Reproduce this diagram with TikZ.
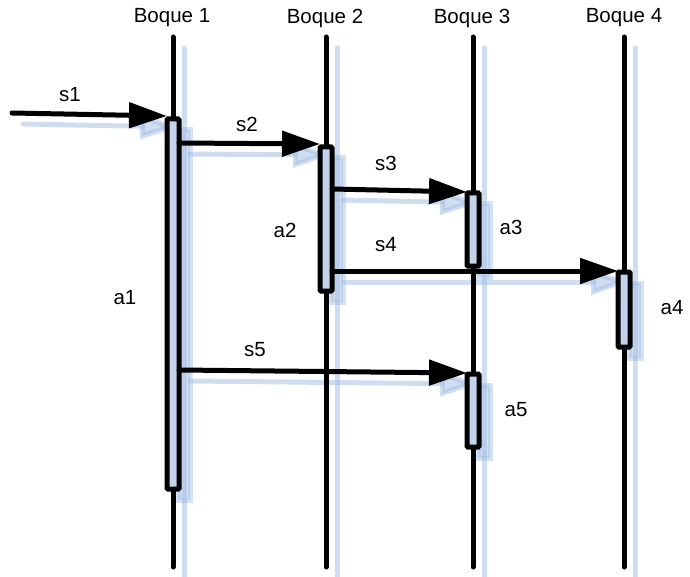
\documentclass[tikz,border=0pt]{standalone}
\usepackage{fontspec}
\setmainfont{Liberation Sans}
\usetikzlibrary{arrows.meta}
\pgfdeclarelayer{background}
\pgfsetlayers{background,main}
\definecolor{shade}{RGB}{160,188,228}
\definecolor{actfill}{RGB}{196,210,235}
\tikzset{
  lifeline/.style={line width=5pt, line cap=round},
  actbox/.style={draw, line width=5pt, fill=actfill, minimum width=12pt,
    inner sep=0pt, outer sep=0pt, rounded corners=0.8pt},
  msg/.style={line width=5pt, line cap=round,
    -{Triangle[length=38pt,width=25pt]}},
  lbl/.style={font=\fontsize{20.5}{24}\selectfont, inner sep=0pt},
  ghost/.style={draw=shade, opacity=0.5, line cap=round},
  ghostbox/.style={draw=shade, fill=shade, line width=5pt, opacity=0.45},
}
\begin{document}
\begin{tikzpicture}[x=1pt, y=-1pt]
\useasboundingbox (0,0) rectangle (690,577);

% lifeline ends
\coordinate (t1) at (173,37);  \coordinate (b1) at (173,567);
\coordinate (t2) at (326,37);  \coordinate (b2) at (326,567);
\coordinate (t3) at (473,37);  \coordinate (b3) at (473,567);
\coordinate (t4) at (624,37);  \coordinate (b4) at (624,567);
\coordinate (src) at (12,113);

% block titles
\node[lbl] (h1) at (172,18) {Boque 1};
\node[lbl] (h2) at (325,18) {Boque 2};
\node[lbl] (h3) at (472,18) {Boque 3};
\node[lbl] (h4) at (624,18) {Boque 4};

% lifelines
\draw[lifeline] (t1) -- (b1);
\draw[lifeline] (t2) -- (b2);
\draw[lifeline] (t3) -- (b3);
\draw[lifeline] (t4) -- (b4);

% activation bars
\node[actbox, minimum height=370pt] (a1) at (173,304) {};
\node[actbox, minimum height=144pt] (a2) at (326,219) {};
\node[actbox, minimum height=73pt]  (a3) at (473,229.5) {};
\node[actbox, minimum height=75pt]  (a4) at (624,309.5) {};
\node[actbox, minimum height=73pt]  (a5) at (473,410.5) {};

% messages
\draw[msg] (src) -- ([yshift=3pt]a1.north west);
\draw[msg] ([yshift=-24pt]a1.north east) -- ([yshift=3pt]a2.north west);
\draw[msg] ([yshift=-42pt]a2.north east) -- ([yshift=1pt]a3.north west);
\draw[msg] ([yshift=-124pt]a2.north east) -- ([yshift=1pt]a4.north west);
\draw[msg] ([yshift=-251pt]a1.north east) -- ([yshift=1pt]a5.north west);

% labels
\node[lbl] (l1) at (70,95) {s1};
\node[lbl] (l2) at (247,124) {s2};
\node[lbl] (l3) at (386,163) {s3};
\node[lbl] (l4) at (386,245) {s4};
\node[lbl] (l5) at (255,350) {s5};
\node[lbl] (n1) at (125,298) {a1};
\node[lbl] (n2) at (285,230) {a2};
\node[lbl] (n3) at (511,227) {a3};
\node[lbl] (n4) at (672,308) {a4};
\node[lbl] (n5) at (516,410) {a5};

% soft offset shadow behind everything
\begin{pgfonlayer}{background}
\begin{scope}[transform canvas={shift={(11pt,-11pt)}}]
  \draw[lifeline, ghost] (t1) -- (b1);
  \draw[lifeline, ghost] (t2) -- (b2);
  \draw[lifeline, ghost] (t3) -- (b3);
  \draw[lifeline, ghost] (t4) -- (b4);
  \foreach \b in {a1,a2,a3,a4,a5}
    \draw[ghostbox] (\b.north west) rectangle (\b.south east);
  \draw[msg, ghost, fill=shade] (src) -- ([yshift=3pt]a1.north west);
  \draw[msg, ghost, fill=shade] ([yshift=-24pt]a1.north east) -- ([yshift=3pt]a2.north west);
  \draw[msg, ghost, fill=shade] ([yshift=-42pt]a2.north east) -- ([yshift=1pt]a3.north west);
  \draw[msg, ghost, fill=shade] ([yshift=-124pt]a2.north east) -- ([yshift=1pt]a4.north west);
  \draw[msg, ghost, fill=shade] ([yshift=-251pt]a1.north east) -- ([yshift=1pt]a5.north west);
\end{scope}
\end{pgfonlayer}
\end{tikzpicture}
\end{document}
